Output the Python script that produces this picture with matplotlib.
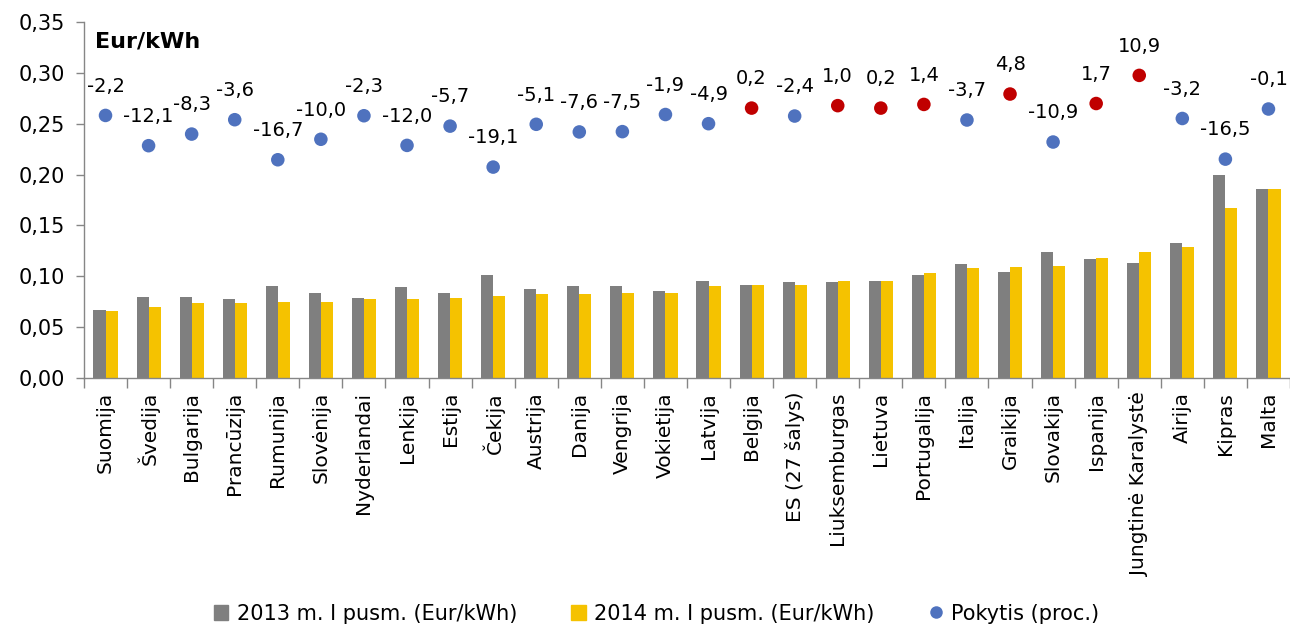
import matplotlib
matplotlib.use("Agg")
import matplotlib.pyplot as plt
from matplotlib.lines import Line2D
from matplotlib.patches import Patch
import numpy as np

plt.rcParams['font.family'] = ['DejaVu Sans']

categories = ["Suomija", "Švedija", "Bulgarija", "Prancūzija", "Rumunija", "Slovėnija",
              "Nyderlandai", "Lenkija", "Estija", "Čekija", "Austrija", "Danija", "Vengrija",
              "Vokietija", "Latvija", "Belgija", "ES (27 šalys)", "Liuksemburgas", "Lietuva",
              "Portugalija", "Italija", "Graikija", "Slovakija", "Ispanija",
              "Jungtinė Karalystė", "Airija", "Kipras", "Malta"]

price_2013 = [0.067, 0.080, 0.080, 0.078, 0.090, 0.084, 0.079, 0.089, 0.084, 0.101, 0.088,
              0.090, 0.090, 0.086, 0.095, 0.091, 0.094, 0.094, 0.095, 0.101, 0.112, 0.104,
              0.124, 0.117, 0.113, 0.133, 0.200, 0.186]
price_2014 = [0.066, 0.070, 0.074, 0.074, 0.075, 0.075, 0.078, 0.078, 0.079, 0.081, 0.083,
              0.083, 0.084, 0.084, 0.090, 0.091, 0.091, 0.095, 0.095, 0.103, 0.108, 0.109,
              0.110, 0.118, 0.124, 0.129, 0.167, 0.186]
change_pct = [-2.2, -12.1, -8.3, -3.6, -16.7, -10.0, -2.3, -12.0, -5.7, -19.1, -5.1, -7.6,
              -7.5, -1.9, -4.9, 0.2, -2.4, 1.0, 0.2, 1.4, -3.7, 4.8, -10.9, 1.7, 10.9, -3.2,
              -16.5, -0.1]

yticks = [0.00, 0.05, 0.10, 0.15, 0.20, 0.25, 0.30, 0.35]

n = len(categories)
x = np.arange(n)

fig = plt.figure(figsize=(12.9, 6.3), dpi=100)
ax = fig.add_axes([0.0651, 0.40, 0.9349, 0.565])

w = 0.28
gray = '#7F7F7F'
yellow = '#F5C200'
blue = '#4F72BE'
red = '#C00000'
ax.bar(x - w/2, price_2013, width=w, color=gray, zorder=2)
ax.bar(x + w/2, price_2014, width=w, color=yellow, zorder=2)

ax.set_xlim(-0.5, n - 0.5)
ax.set_ylim(0, 0.35)
ax.set_yticks(yticks)
ax.set_yticklabels([f"{v:.2f}".replace('.', ',') for v in yticks], fontsize=15)

ax.set_xticks(x)
ax.set_xticklabels(categories, rotation=90, fontsize=14.5)
ax.tick_params(axis='x', which='major', length=0, pad=10)
ax.set_xticks(np.arange(-0.5, n, 1.0), minor=True)
ax.tick_params(axis='x', which='minor', length=7, color='#868686', width=1)
ax.tick_params(axis='y', length=6, color='#868686', width=1, pad=8)

for s in ['top', 'right']:
    ax.spines[s].set_visible(False)
for s in ['left', 'bottom']:
    ax.spines[s].set_color('#868686')
    ax.spines[s].set_linewidth(1)

ax2 = ax.twinx()
ax2.set_ylim(-88.1, 28.35)
ax2.axis('off')
colors = [red if v > 0 else blue for v in change_pct]
ax2.scatter(x, change_pct, s=95, c=colors, zorder=3, edgecolors='none')
for xi, v in zip(x, change_pct):
    ax2.annotate(f"{v:.1f}".replace('.', ','), (xi, v), xytext=(0, 21),
                 textcoords='offset points', ha='center', va='center', fontsize=14)

ax.text(0.0095, 0.945, "Eur/kWh", transform=ax.transAxes, fontsize=16,
        fontweight='bold', ha='left', va='center')

handles = [Patch(color=gray), Patch(color=yellow),
           Line2D([], [], marker='o', color='none', markerfacecolor=blue,
                  markeredgecolor='none', markersize=9)]
labels = ["2013 m. I pusm. (Eur/kWh)", "2014 m. I pusm. (Eur/kWh)", "Pokytis (proc.)"]
fig.legend(handles, labels, loc='center', bbox_to_anchor=(0.509, 0.026), ncol=3,
           frameon=False, fontsize=15, handlelength=0.7, handleheight=0.7,
           columnspacing=2.6, handletextpad=0.4)

fig.savefig("out.png", dpi=100)
